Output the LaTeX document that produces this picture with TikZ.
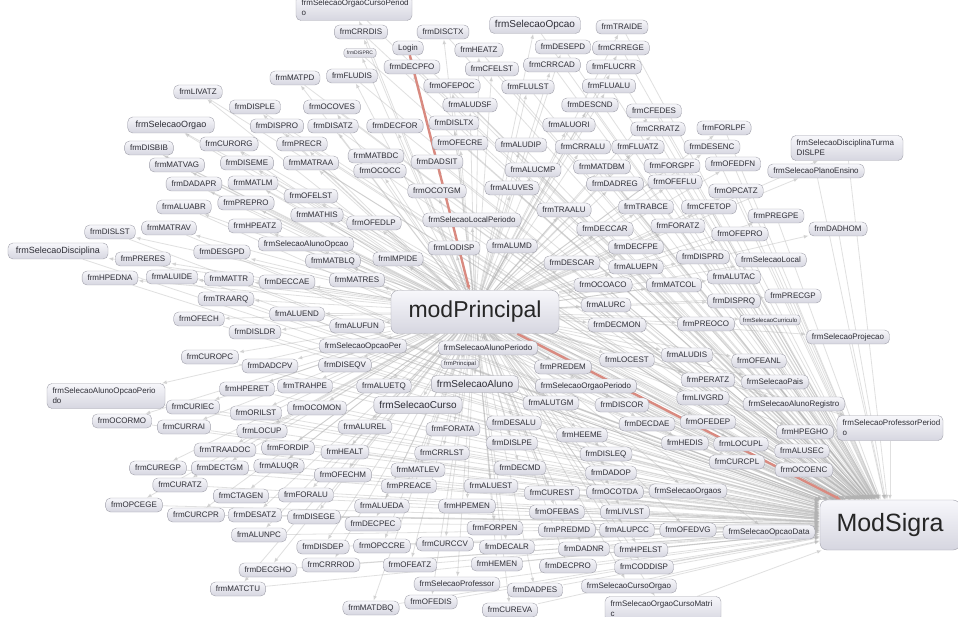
\documentclass[tikz,border=0pt]{standalone}
\usepackage{fontspec}
\setmainfont{Liberation Sans}
\usepackage{tikz}
\usetikzlibrary{arrows.meta, backgrounds}
\definecolor{boxtop}{HTML}{F7F7FB}
\definecolor{boxbot}{HTML}{D6D6E0}
\definecolor{boxline}{HTML}{A2A2AC}
\definecolor{boxtext}{HTML}{2E2E36}
\definecolor{hotpath}{HTML}{D98A80}

\begin{document}
\begin{tikzpicture}[
  x=1pt, y=-1pt,
  >={Latex[length=5pt,width=4pt]},
  frm/.style={draw=boxline, line width=0.4pt, rounded corners=5pt,
    top color=boxtop, bottom color=boxbot, text=boxtext,
    font=\fontsize{8}{9.5}\selectfont, inner xsep=5.5pt, inner ysep=0pt,
    minimum height=14pt},
  twoline/.style={frm, align=left, font=\fontsize{8}{10}\selectfont,
    minimum height=25pt},
  tinybox/.style={frm, rounded corners=3pt, minimum height=9pt, inner xsep=3pt},
  hub/.style={frm, rounded corners=7pt, text=black!85},
  link/.style={->, draw=gray!60, opacity=0.4, line width=0.8pt},
  hot/.style={->, draw=hotpath, line width=2.4pt},
  ]
  \begin{pgfonlayer}{background}
    \fill[white] (0,0) rectangle (958,617);
  \end{pgfonlayer}
  \useasboundingbox (0,0) rectangle (958,617);

  % the two hubs
  \node[hub, font=\fontsize{23}{26}\selectfont, minimum width=168pt,
    minimum height=43pt] (modPrincipal) at (475,312) {modPrincipal};
  \node[hub, font=\fontsize{25}{28}\selectfont, minimum width=140pt,
    minimum height=50pt] (ModSigra) at (890,525) {ModSigra};

  % ordinary forms
  \foreach \n/\x/\y in {
    frmCRRDIS/361/32, frmDISCTX/443/32, Login/408/48, frmTRAIDE/622/27,
    frmHEATZ/479/50, frmDESEPD/563/47, frmCRREGE/621/48, frmDECPFO/412/67,
    frmCFELST/492/69, frmCRRCAD/552/65, frmFLUCRR/614/67, frmMATPD/295/78,
    frmFLUDIS/352/76, frmLIVATZ/198/92, frmOFEPOC/452/86, frmFLULST/528/87,
    frmFLUALU/609/86, frmDISPLE/255/107, frmOCOVES/332/107, frmALUDSF/470/105,
    frmDESCND/590/105, frmCFEDES/654/111, frmDISPRO/277/126, frmDISATZ/333/126,
    frmDECFOR/395/126, frmDISLTX/454/123, frmALUORI/569/125, frmCRRATZ/658/129,
    frmFORLPF/724/128, frmDISBIB/149/148, frmCURORG/229/144, frmPRECR/302/144,
    frmOFECRE/460/143, frmALUDIP/521/145, frmCRRALU/583/147, frmFLUATZ/638/147,
    frmDESENC/712/147, frmMATVAG/177/165, frmDISEME/247/163, frmMATRAA/311/163,
    frmMATBDC/376/156, frmDADSIT/437/162, frmOCOCC/380/171, frmALUCMP/533/170,
    frmMATDBM/602/167, frmFORGPF/672/166, frmOFEDFN/733/164,
    frmSelecaoPlanoEnsino/816/171, frmDADAPR/194/184, frmMATLM/253/183,
    frmOFELST/311/196, frmOCOTGM/437/191, frmALUVES/512/188, frmDADREG/615/184,
    frmOFEFLU/675/182, frmOPCATZ/736/191, frmALUABR/184/207, frmPREPRO/246/203,
    frmMATHIS/317/215, frmHPEATZ/255/226, frmOFEDLP/374/223, frmTRAALU/564/210,
    frmTRABCE/646/207, frmCFETOP/709/207, frmPREGPE/776/216, frmDISLST/110/232,
    frmMATRAV/169/228, frmSelecaoLocalPeriodo/472/220, frmDADHOM/838/229,
    frmFORATZ/678/226, frmOFEPRO/740/234, frmDECCAR/605/229,
    frmSelecaoAlunoOpcao/306/244, frmDESGPD/222/252, frmLODISP/454/248,
    frmALUMD/512/246, frmDECFPE/636/247, frmDISPRD/703/257,
    frmSelecaoLocal/771/260, frmPRERES/143/259, frmMATBLQ/333/261,
    frmIMPIDE/398/259, frmDESCAR/572/263, frmALUEPN/636/267, frmHPEDNA/110/278,
    frmALUIDE/172/277, frmMATTR/229/279, frmDECCAE/287/282, frmMATRES/357/280,
    frmALUTAC/734/277, frmMATCOL/674/285, frmOCOACO/603/285, frmTRAARQ/226/299,
    frmALURC/606/305, frmDISPRQ/734/301, frmPRECGP/793/296, frmALUEND/297/314,
    frmOFECH/199/319, frmALUFUN/357/326, frmDECMON/617/325, frmPREOCO/706/324,
    frmDISLDR/255/332, frmSelecaoOpcaoPer/363/346,
    frmSelecaoAlunoPeriodo/488/348, frmSelecaoProjecao/848/337,
    frmCUROPC/210/357, frmDADCPV/270/366, frmDISEQV/345/365, frmPREDEM/563/367,
    frmLOCEST/627/360, frmALUDIS/687/355, frmOFEANL/759/361, frmTRAHPE/305/386,
    frmHPERET/247/389, frmALUETQ/384/386, frmSelecaoOrgaoPeriodo/586/386,
    frmPERATZ/708/380, frmSelecaoPais/775/382, frmALUTGM/551/403,
    frmCURIEC/193/407, frmORILST/256/413, frmOCOMON/317/408, frmDISCOR/622/405,
    frmLIVGRD/703/398, frmSelecaoAlunoRegistro/794/404, frmOCORMO/122/421,
    frmCURRAI/184/427, frmALUREL/365/427, frmFORATA/453/429, frmDESALU/514/423,
    frmDECDAE/647/424, frmOFEDEP/708/422, frmHEEME/582/435, frmLOCUP/262/431,
    frmHPEGHO/805/432, frmHEDIS/685/443, frmLOCUPL/741/444, frmDISLPE/512/443,
    frmALUSEC/802/451, frmTRAADOC/225/450, frmFORDIP/288/448, frmHEALT/345/452,
    frmCRRLST/442/453, frmDISLEQ/606/454, frmCURCPL/737/462, frmOCOENC/804/470,
    frmCUREGP/158/468, frmDECTGM/220/468, frmALUQR/279/466, frmOFECHM/343/475,
    frmMATLEV/418/470, frmDECMD/520/468, frmDADOP/611/473, frmCURATZ/180/485,
    frmCTAGEN/241/496, frmFORALU/306/495, frmPREACE/409/486, frmALUEST/491/486,
    frmCUREST/552/493, frmOCOTDA/615/492, frmSelecaoOrgaos/688/491,
    frmOPCEGE/134/505, frmALUEDA/382/506, frmHPEMEN/467/506, frmOFEBAS/557/512,
    frmLIVLST/625/512, frmCURCPR/196/515, frmDESATZ/255/515, frmDISEGE/314/517,
    frmDECPEC/373/524, frmFORPEN/495/528, frmPREDMD/567/530, frmALUPCC/627/530,
    frmOFEDVG/688/530, frmSelecaoOpcaoData/769/532, frmALUNPC/259/535,
    frmDISDEP/323/547, frmOPCCRE/382/546, frmCURCCV/445/544, frmDECALR/507/547,
    frmDADNR/584/549, frmHPELST/641/550, frmDECGHO/268/570, frmCRRROD/331/565,
    frmOFEATZ/410/565, frmHEMEN/497/564, frmDECPRO/568/566, frmCODDISP/644/567,
    frmMATCTU/238/589, frmSelecaoProfessor/457/584, frmDADPES/535/590,
    frmSelecaoCursoOrgao/629/586, frmMATDBQ/371/608, frmOFEDIS/431/602,
    frmCUREVA/510/610} {
    \node[frm] (\n) at (\x,\y) {\n};
    \begin{pgfonlayer}{background}
      \draw[link] (modPrincipal) -- (\n);
      \draw[link] (\n) -- (ModSigra);
    \end{pgfonlayer}
  }

  % larger selection forms
  \foreach \n/\x/\y in {frmSelecaoOpcao/535/25, frmSelecaoAluno/475/384,
    frmSelecaoCurso/418/405}
    \node[frm, font=\fontsize{10}{12}\selectfont, minimum height=17pt] (\n) at (\x,\y) {\n};
  \foreach \n/\x/\y in {frmSelecaoOrgao/171/125, frmSelecaoDisciplina/58/251}
    \node[frm, font=\fontsize{9}{11}\selectfont, minimum height=16pt, inner xsep=8pt] (\n) at (\x,\y) {\n};

  % tiny ones
  \node[tinybox, font=\fontsize{5}{6}\selectfont] (frmDISPRC) at (360,53) {frmDISPRC};
  \node[tinybox, font=\fontsize{6}{7}\selectfont] (frmPrincipal) at (460,364) {frmPrincipal};
  \node[tinybox, font=\fontsize{6}{7}\selectfont, minimum height=10pt] (frmSelecaoCurriculo) at (770,320) {frmSelecaoCurriculo};

  % wrapped names
  \node[twoline, text width=105pt] (frmSelecaoOrgaoCursoPeriodo) at (354,8) {frmSelecaoOrgaoCursoPeriod\\o};
  \node[twoline, text width=101pt] (frmSelecaoDisciplinaTurmaDISLPE) at (847,148) {frmSelecaoDisciplinaTurma\\DISLPE};
  \node[twoline, text width=107pt] (frmSelecaoAlunoOpcaoPeriodo) at (106,396) {frmSelecaoAlunoOpcaoPerio\\do};
  \node[twoline, text width=95pt] (frmSelecaoProfessorPeriodo) at (890,428) {frmSelecaoProfessorPeriod\\o};
  \node[twoline, text width=105pt] (frmSelecaoOrgaoCursoMatric) at (663,609) {frmSelecaoOrgaoCursoMatri\\c};

  \begin{pgfonlayer}{background}
    \foreach \n in {frmSelecaoOpcao, frmSelecaoAluno, frmSelecaoCurso,
      frmSelecaoOrgao, frmSelecaoDisciplina, frmDISPRC, frmPrincipal,
      frmSelecaoCurriculo, frmSelecaoOrgaoCursoPeriodo,
      frmSelecaoDisciplinaTurmaDISLPE, frmSelecaoAlunoOpcaoPeriodo,
      frmSelecaoProfessorPeriodo, frmSelecaoOrgaoCursoMatric} {
      \draw[link] (modPrincipal) -- (\n);
      \draw[link] (\n) -- (ModSigra);
    }
    % highlighted path
    \draw[hot] (Login) -- (modPrincipal);
    \draw[hot] (modPrincipal) -- (ModSigra);
  \end{pgfonlayer}
\end{tikzpicture}
\end{document}
